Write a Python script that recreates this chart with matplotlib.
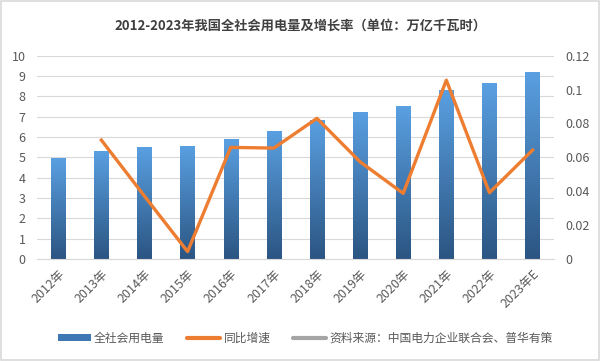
import numpy as np
import matplotlib
matplotlib.use('Agg')
import matplotlib.pyplot as plt
from matplotlib.lines import Line2D
from matplotlib.patches import Patch

plt.rcParams['font.family'] = ['Noto Sans CJK SC', 'DejaVu Sans']

years = ['2012年', '2013年', '2014年', '2015年', '2016年', '2017年',
         '2018年', '2019年', '2020年', '2021年', '2022年', '2023年E']
usage = [4.96, 5.32, 5.52, 5.55, 5.92, 6.31, 6.84, 7.23, 7.51, 8.31, 8.64, 9.2]
growth_years = years[1:]
growth = [0.0702, 0.0372, 0.0045, 0.0659, 0.0655, 0.083, 0.0574, 0.0388,
          0.1055, 0.0392, 0.0643]

title = '2012-2023年我国全社会用电量及增长率（单位：万亿千瓦时）'
source = '资料来源：中国电力企业联合会、普华有策'

txt = '#595959'
fig = plt.figure(figsize=(6.01, 3.61), dpi=100)
fig.patches.append(plt.Rectangle((0.002, 0.003), 0.995, 0.993, transform=fig.transFigure,
                                 fill=False, edgecolor='#d9d9d9', lw=1.2))
ax = fig.add_axes([0.061, 0.282, 0.861, 0.564])
ax2 = ax.twinx()

x = np.arange(len(years))
bars = ax.bar(x, usage, width=0.33, color='none', zorder=2)
grad = np.linspace(1, 0, 256).reshape(-1, 1)
cmap = matplotlib.colors.LinearSegmentedColormap.from_list('b', ['#2b5582', '#5aa0e2'])
for b in bars:
    x0, y0, w, h = b.get_x(), b.get_y(), b.get_width(), b.get_height()
    im = ax.imshow(grad, extent=(x0, x0 + w, 0, h), cmap=cmap, aspect='auto',
                   vmin=0, vmax=1, zorder=2)
    im.set_clip_path(b)

ax.set_xlim(-0.5, len(years) - 0.5)
ax.set_ylim(0, 10)
ax.set_yticks(range(0, 11))
ax.grid(axis='y', color='#d9d9d9', lw=0.8, zorder=0)
ax.set_axisbelow(True)

ax2.plot(x[1:], growth, color='#ed7d31', lw=2.4, solid_joinstyle='round', zorder=3)
ax2.set_ylim(0, 0.12)
ax2.set_yticks([0, 0.02, 0.04, 0.06, 0.08, 0.1, 0.12])
ax2.set_yticklabels(['0', '0.02', '0.04', '0.06', '0.08', '0.1', '0.12'])

ax.set_xticks(x)
ax.set_xticklabels(years, rotation=45, ha='right', rotation_mode='anchor')
for a in (ax, ax2):
    for s in a.spines.values():
        s.set_visible(False)
    a.tick_params(length=0, labelsize=9, colors=txt)
ax.spines['bottom'].set_visible(True)
ax.spines['bottom'].set_color('#d9d9d9')
ax.tick_params(axis='x', pad=6)
ax.tick_params(axis='y', pad=8)
ax2.tick_params(axis='y', pad=8)

fig.text(0.5, 0.93, title, ha='center', va='center', fontsize=9.5,
         fontweight='bold', color='#404040')

handles = [Patch(facecolor='#3d78b5', edgecolor='none'),
           Line2D([], [], color='#ed7d31', lw=3, solid_capstyle='round'),
           Line2D([], [], color='#a5a5a5', lw=3, solid_capstyle='round')]
fig.legend(handles, ['全社会用电量', '同比增速', source], loc='center',
           bbox_to_anchor=(0.508, 0.063), ncol=3, frameon=False, fontsize=8.5,
           labelcolor=txt, handlelength=2.8, handleheight=0.5, handletextpad=0.3,
           columnspacing=1.9)

fig.savefig('out.png', dpi=100)
